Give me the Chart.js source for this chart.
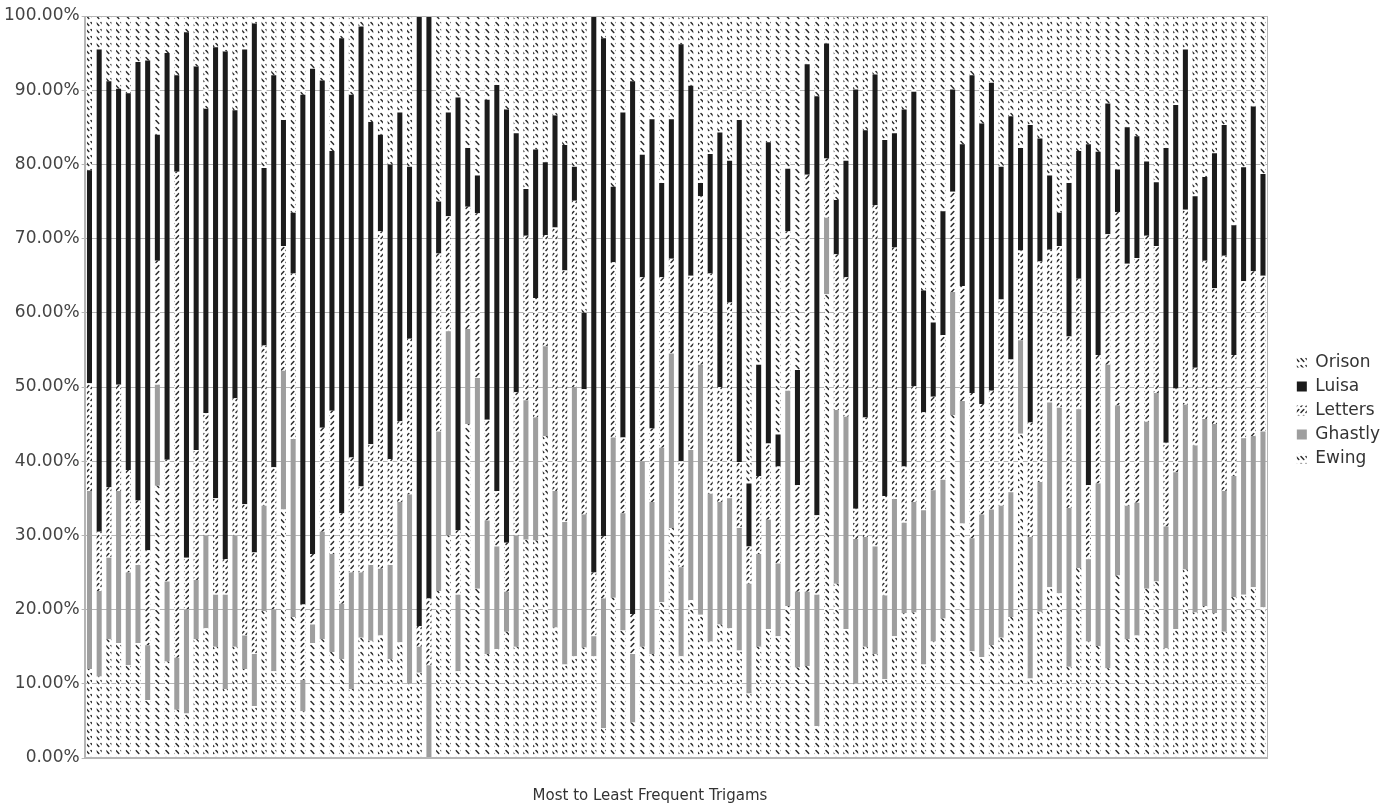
<!DOCTYPE html>
<html><head><meta charset="utf-8">
<script src="https://cdn.jsdelivr.net/npm/chart.js@4.4.1/dist/chart.umd.min.js"></script>
<style>html,body{margin:0;padding:0;background:#fff}#wrap{width:1380px;height:805px;position:relative}</style>
</head><body><div id="wrap"><canvas id="c"></canvas></div>
<script>
const categories = Array.from({length: 122}, (_, i) => 'Trigram ' + (i + 1));
const seriesNames = ['Ewing', 'Ghastly', 'Letters', 'Luisa', 'Orison'];
const yTickValues = [0, 10, 20, 30, 40, 50, 60, 70, 80, 90, 100];
const xTitle = 'Most to Least Frequent Trigams';

const ewing = [12,11,16,15.5,12.5,15.5,7.8,36.7,13,6.5,6,16,17.5,15,9.3,15,12,7,19.8,11.7,33.5,19,6.3,15.5,16,14.3,13.3,9.3,16.2,15.8,16.5,13.3,15.6,10,11.5,0,22.5,30,11.7,45,22.8,14,14.7,17,15,29.4,29.3,43.4,17.6,12.6,13.7,14.9,13.7,4,21.6,17.2,4.8,15,14,21,31,13.7,21.3,19.3,15.7,18,17.5,14.5,8.7,15,17.4,16.4,20.5,12.2,12.4,4.3,62.5,23.5,17.4,10,15,14,10.6,16.4,19.5,19.6,12.6,15.7,18.8,46.2,31.6,14.4,13.6,15.2,16.2,19,43.7,10.7,19.7,23,22.2,12.3,25.6,15.7,15.1,12.1,24.6,16,16.5,22.8,23.8,14.8,17.4,25.4,19.6,20.5,19.5,17,21.7,22,23,20.3];
const ghastly = [24,11.5,11,20.5,12.5,10.5,7.4,13.6,10.8,7,14,8,12.5,7,12.7,15,4.5,7,14.2,8.3,18.7,24,4.2,2.5,14.5,13.2,7.5,15.7,8.8,10.2,9,12.7,18.9,25.5,3.5,12.5,21.5,27.5,10.3,12.8,28.4,18,13.8,5.4,15,18.8,16.6,12.1,18.4,19.2,36.3,17.9,2.7,17.5,21.6,15.8,9.2,25,20.5,20.8,23.5,12,20.2,33.7,19.9,16.5,17.5,16.5,14.8,12.5,14.7,9.8,29,10.2,10,17.7,10.3,23.4,28.6,19.5,14.8,14.5,11.3,18.5,12.2,14.9,20.8,20.4,18.7,16.6,16.5,15.2,19.2,18.3,17.8,16.8,12.6,19.1,17.5,24.9,25,21.4,21.4,11.1,21.9,40.9,22.9,18,17.9,22.5,25.4,16.4,21.1,22.2,22.5,25.2,25.5,19,16.3,21.1,20.4,23.7];
const letters = [14.5,8,9.5,14.3,13.8,8.7,12.8,16.7,16.4,65.5,7,17.5,16.5,13,4.8,18.5,17.7,13.7,21.6,19.2,16.8,22.3,10.2,9.5,14,19.3,12.2,15.5,11.6,16.3,45.5,14.3,10.9,21,2.8,9,24,15.5,8.7,16.5,22.2,13.6,7.5,6.6,19.3,22.2,16.1,15,35.5,33.9,25.1,16.9,8.6,8.4,23.6,10.2,5.4,24.8,9.9,23,12.8,14.3,23.5,22.7,29.7,15.5,26.4,8.9,5,10.5,10.3,13.1,21.5,14.4,56.2,10.7,8,21,18.8,4.1,16.1,46,13.4,33.9,7.6,15.6,13.2,12.6,19.5,13.5,15.5,19.6,14.9,16,27.8,17.9,12.1,15.4,29.7,20.6,21.8,23.1,17.6,10,17.3,17.6,26.1,32.6,33,25.1,19.8,11.3,11.3,26.3,10.5,21.3,18.3,31.7,16.3,21.2,22.2,21];
const luisa = [28.7,65,54.7,39.9,50.8,59.1,66,17,54.8,13,70.8,51.7,41,60.8,68.4,38.8,61.3,71.3,23.9,52.8,17,8.2,68.7,65.4,46.8,35,64,48.9,62,43.4,13,39.7,41.6,23.2,82.2,78.5,7,14,58.3,7.9,5.1,43.1,54.7,58.4,34.9,6.3,20,9.8,15.1,16.9,4.6,10.3,75,67.1,10.2,43.8,71.8,16.5,41.7,12.7,18.8,56.2,25.6,1.8,16.1,34.3,19.1,46.1,8.5,15,40.6,4.3,8.4,15.5,14.9,56.5,15.5,7.3,15.7,56.5,38.7,17.6,48,15.4,48.1,39.7,16.4,10,16.7,13.8,19.1,42.8,37.8,41.5,17.9,32.8,13.8,40.1,16.6,10,4.5,20.7,17.2,45.9,27.4,17.6,5.7,18.4,16.4,10,8.6,39.7,38.2,21.6,23.1,11.3,18.2,17.6,17.5,15.3,22.2,13.7];
const orison = [20.8,4.5,8.8,9.8,10.4,6.2,6,16,5,8,2.2,6.8,12.5,4.2,4.8,12.7,4.5,1,20.5,8,14,26.5,10.6,7.1,8.7,18.2,3,10.6,1.4,14.3,16,20,13,20.3,0,0,25,13,11,17.8,21.5,11.3,9.3,12.6,15.8,23.3,18,19.7,13.4,17.4,20.3,40,0,3,23,13,8.8,18.7,13.9,22.5,13.9,3.8,9.4,22.5,18.6,15.7,19.5,14,63,47,17,56.4,20.6,47.7,6.5,10.8,3.7,24.8,19.5,9.9,15.4,7.9,16.7,15.8,12.6,10.2,37,41.3,26.3,9.9,17.3,8,14.5,9,20.3,13.5,17.8,14.7,16.5,21.5,26.5,22.5,18.2,17.3,18.3,11.8,20.7,15,16.2,19.6,22.4,17.8,12,4.5,24.3,21.7,18.5,14.7,28.2,20.4,12.2,21.3];

const FONT = '"DejaVu Sans", sans-serif';
const canvas = document.getElementById('c');
const ctx = canvas.getContext('2d');

function hatch(dir, h) {
  const t = document.createElement('canvas');
  t.width = 5; t.height = h;
  const c = t.getContext('2d');
  c.fillStyle = '#ffffff';
  c.fillRect(0, 0, 5, h);
  c.strokeStyle = '#2e2e2e';
  c.lineWidth = 1.5;
  c.lineCap = 'round';
  c.beginPath();
  if (dir === 'back') { c.moveTo(1, 1.5); c.lineTo(3.8, 4.5); }
  else { c.moveTo(3.8, 1.5); c.lineTo(1, 4.5); }
  c.stroke();
  return ctx.createPattern(t, 'repeat');
}

const fills = {
  Ewing: hatch('back', 7),
  Ghastly: '#9e9e9e',
  Letters: hatch('fwd', 6),
  Luisa: '#1b1b1b',
  Orison: hatch('back', 7)
};
const values = {Ewing: ewing, Ghastly: ghastly, Letters: letters, Luisa: luisa, Orison: orison};

const frame = {
  id: 'frame',
  afterDatasetsDraw(chart) {
    const a = chart.chartArea, c = chart.ctx;
    c.save();
    c.strokeStyle = '#b5b5b5';
    c.lineWidth = 1;
    c.strokeRect(Math.round(a.left) + 0.5, Math.round(a.top) + 0.5, Math.round(a.right - a.left) - 1, Math.round(a.bottom - a.top) - 1);
    c.restore();
  }
};

new Chart(ctx, {
  type: 'bar',
  data: {
    labels: categories,
    datasets: seriesNames.map(n => ({
      label: n,
      data: values[n],
      backgroundColor: fills[n],
      borderWidth: 0,
      categoryPercentage: 1,
      barPercentage: 0.52
    }))
  },
  options: {
    responsive: true,
    maintainAspectRatio: false,
    animation: false,
    layout: {padding: {top: 16, right: -10, left: 2, bottom: 0}},
    plugins: {
      tooltip: {enabled: false},
      legend: {
        position: 'right',
        reverse: true,
        labels: {
          boxWidth: 10, boxHeight: 10, padding: 7,
          color: '#333', font: {family: FONT, size: 17}
        }
      }
    },
    scales: {
      x: {
        stacked: true,
        grid: {display: false},
        border: {display: true, color: '#b5b5b5'},
        ticks: {display: false},
        title: {display: true, text: xTitle + '           ', color: '#333', font: {family: FONT, size: 15}, padding: {top: 21, bottom: 0}}
      },
      y: {
        stacked: true,
        min: 0, max: 100,
        afterBuildTicks: s => { s.ticks = yTickValues.map(v => ({value: v})); },
        ticks: {
          callback: v => v.toFixed(2) + '%',
          color: '#444', font: {family: FONT, size: 17}, padding: 2
        },
        grid: {color: '#b5b5b5', tickLength: 3},
        border: {color: '#b5b5b5'}
      },
      gap: {
        type: 'linear',
        position: 'right',
        display: true,
        min: 0, max: 1,
        ticks: {display: false},
        grid: {display: false, drawTicks: false},
        border: {display: false},
        afterFit: s => { s.width = 22; }
      }
    }
  },
  plugins: [frame]
});
</script>
</body></html>
